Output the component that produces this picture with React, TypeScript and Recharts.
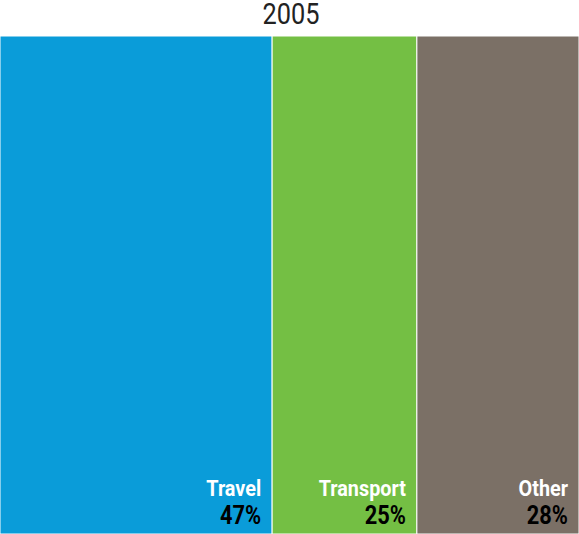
import { BarChart, Bar, XAxis, YAxis, LabelList } from 'recharts'

const year = '2005'
const categories = ['Travel', 'Transport', 'Other']
const shares = [47, 25, 28]
const colors = ['#0A9CD9', '#74BF44', '#7B7066']

const row: Record<string, string | number> = { year }
categories.forEach((c, i) => {
  row[c] = shares[i]
})
const data = [row]

const FONT = 'Roboto, "Noto Sans", sans-serif'

const makeLabel = (name: string) => (props: any) => {
  const { x, y, width, height, value } = props
  const right = x + width - 11
  const bottom = y + height
  return (
    <g>
      <text
        transform={`translate(${right},${bottom - 38}) scale(0.88,1)`}
        textAnchor="end"
        fill="#fff"
        fontSize={22.5}
        fontWeight="bold"
        fontFamily={FONT}
      >
        {name}
      </text>
      <text
        transform={`translate(${right},${bottom - 10}) scale(0.84,1)`}
        textAnchor="end"
        fill="#000"
        fontSize={26}
        fontWeight="bold"
        fontFamily={FONT}
      >
        {value}%
      </text>
    </g>
  )
}

export default function App() {
  return (
    <div style={{ position: 'absolute', left: 0, top: 0, width: 579, height: 534 }}>
      <svg width={579} height={36} style={{ position: 'absolute', left: 0, top: 0 }}>
        <text
          transform={`translate(291,24) scale(0.86,1)`}
          textAnchor="middle"
          fill="#222"
          fontSize={29.5}
          fontFamily={FONT}
        >
          {year}
        </text>
      </svg>
      <BarChart
        width={579}
        height={534}
        data={data}
        layout="vertical"
        margin={{ top: 36, right: 0, bottom: 0, left: 0 }}
        barCategoryGap={0}
      >
        <XAxis type="number" hide domain={[0, 100]} />
        <YAxis type="category" dataKey="year" hide />
        {categories.map((c, i) => (
          <Bar
            key={c}
            dataKey={c}
            stackId="a"
            fill={colors[i]}
            stroke="#fff"
            strokeWidth={1}
            isAnimationActive={false}
          >
            <LabelList dataKey={c} content={makeLabel(c)} />
          </Bar>
        ))}
      </BarChart>
    </div>
  )
}
